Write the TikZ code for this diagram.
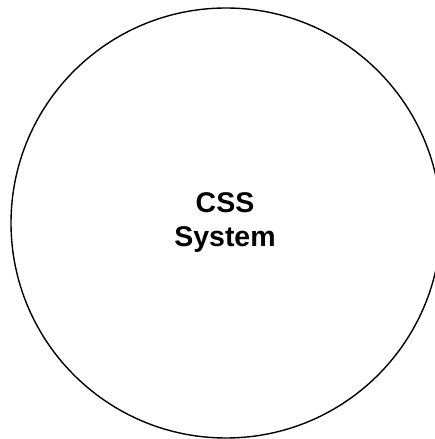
\documentclass[tikz,border=0pt]{standalone}
\usepackage{fontspec}
\setmainfont{Liberation Sans}
\begin{document}
\begin{tikzpicture}[x=1pt,y=1pt,
  sysline/.style={draw=black,line width=1.4pt,circle,minimum size=430pt,inner sep=0pt},
  systext/.style={font=\bfseries\fontsize{28.5}{34}\selectfont,align=center,inner sep=0pt}]
  \useasboundingbox (0,0) rectangle (435,439);
  \node[sysline] (sys) at (226,216) {};
  \node[systext,anchor=base] (cssline) at (225,226) {CSS};
  \node[systext,anchor=base] (sysword) at (225,192) {System};
\end{tikzpicture}
\end{document}
